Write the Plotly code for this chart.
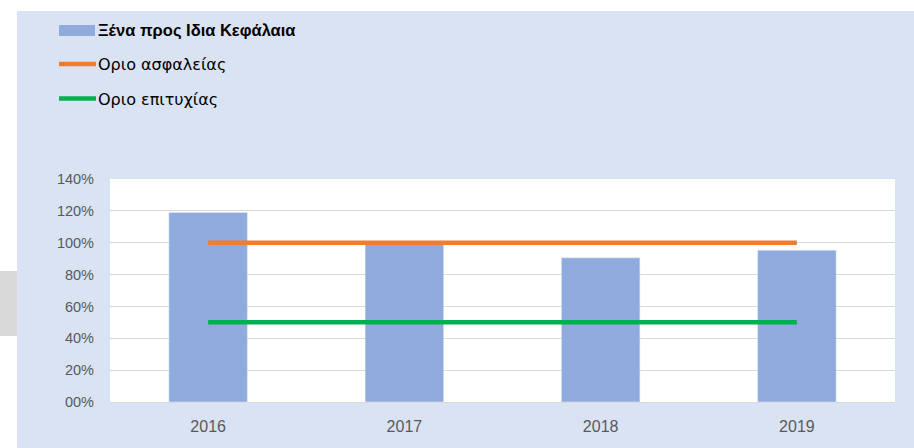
import plotly.graph_objects as go

years = ["2016", "2017", "2018", "2019"]
ratio = [1.19, 0.99, 0.905, 0.952]
safety_limit = [1.0, 1.0, 1.0, 1.0]
success_limit = [0.5, 0.5, 0.5, 0.5]
y_tickvals = [0, 0.2, 0.4, 0.6, 0.8, 1.0, 1.2, 1.4]
y_ticktext = ["00%", "20%", "40%", "60%", "80%", "100%", "120%", "140%"]
legend_names = ["Ξένα προς Ιδια Κεφάλαια", "Οριο ασφαλείας", "Οριο επιτυχίας"]

W, H = 914, 448
L, R, T, B = 110, 19, 179, 46
pw, ph = W - L - R, H - T - B

def px(x):
    return (x - L) / pw

def py(y):
    return (H - B - y) / ph

BAR = "#8faadc"
ORANGE = "#ed7d31"
GREEN = "#00b050"
BG = "#dae3f3"
TXT = "#595959"
FONT = "Liberation Sans"

fig = go.Figure()
fig.add_trace(go.Bar(x=years, y=ratio, marker=dict(color=BAR), width=0.4,
                     name=legend_names[0], showlegend=False))
fig.add_trace(go.Scatter(x=years, y=safety_limit, mode="lines",
                         line=dict(color=ORANGE, width=4.5), name=legend_names[1], showlegend=False))
fig.add_trace(go.Scatter(x=years, y=success_limit, mode="lines",
                         line=dict(color=GREEN, width=4.5), name=legend_names[2], showlegend=False))

shapes = [
    dict(type="rect", xref="paper", yref="paper", x0=px(0), x1=px(17), y0=py(H), y1=py(0),
         fillcolor="white", line=dict(width=0), layer="above"),
    dict(type="rect", xref="paper", yref="paper", x0=px(0), x1=px(W), y0=py(11), y1=py(0),
         fillcolor="white", line=dict(width=0), layer="above"),
    dict(type="rect", xref="paper", yref="paper", x0=px(0), x1=px(17), y0=py(336), y1=py(271),
         fillcolor="#d9d9d9", line=dict(width=0), layer="above"),
    dict(type="rect", xref="paper", yref="paper", x0=px(59), x1=px(95), y0=py(36), y1=py(25),
         fillcolor=BAR, line=dict(width=0), layer="above"),
    dict(type="line", xref="paper", yref="paper", x0=px(59), x1=px(96), y0=py(64), y1=py(64),
         line=dict(color=ORANGE, width=4.5), layer="above"),
    dict(type="line", xref="paper", yref="paper", x0=px(59), x1=px(96), y0=py(98.5), y1=py(98.5),
         line=dict(color=GREEN, width=4.5), layer="above"),
]

annotations = []
for i, (name, yy) in enumerate(zip(legend_names, [30.5, 64.5, 99])):
    if i == 0:
        txt, fnt = "<b>%s</b>" % name, dict(family="Liberation Sans", size=16.5, color="black")
    else:
        txt, fnt = name, dict(family="DejaVu Sans", size=16, color="black")
    annotations.append(dict(
        xref="paper", yref="paper", x=px(96), y=py(yy), xanchor="left", yanchor="middle",
        text=txt, showarrow=False, font=fnt))

fig.update_layout(
    width=W, height=H,
    margin=dict(l=L, r=R, t=T, b=B),
    paper_bgcolor=BG, plot_bgcolor="white",
    shapes=shapes, annotations=annotations,
    font=dict(family=FONT, size=14, color=TXT),
)
fig.update_xaxes(type="category", showgrid=False, showline=True, linecolor="#d9d9d9",
                 linewidth=1, ticks="", ticklabelstandoff=10,
                 tickfont=dict(family=FONT, size=16, color=TXT))
fig.update_yaxes(range=[0, 1.4], tickvals=y_tickvals, ticktext=y_ticktext,
                 showgrid=True, gridcolor="#d9d9d9", gridwidth=1, zeroline=False,
                 showline=False, ticks="", ticklabelstandoff=15,
                 tickfont=dict(family=FONT, size=14.5, color=TXT))

fig.write_html("out.html", config={"displayModeBar": False},
               post_script="document.body.style.margin='0';")
